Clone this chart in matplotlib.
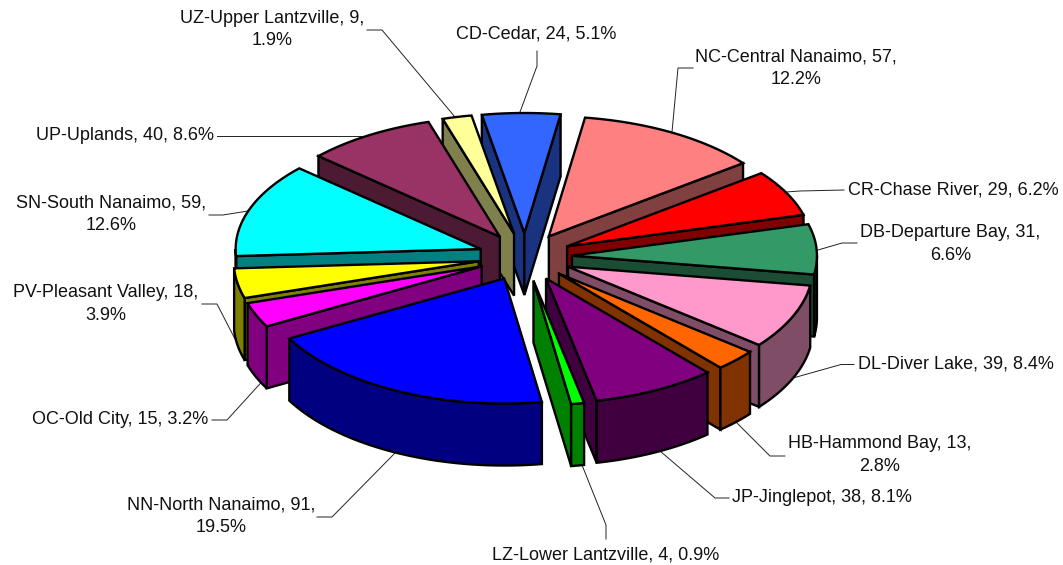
import numpy as np
import matplotlib
matplotlib.use("Agg")
import matplotlib.pyplot as plt
from matplotlib.patches import Polygon

plt.rcParams['font.family'] = ['Liberation Sans', 'DejaVu Sans']

# data, clockwise from the back of the pie
names = ["CD-Cedar", "NC-Central Nanaimo", "CR-Chase River", "DB-Departure Bay",
         "DL-Diver Lake", "HB-Hammond Bay", "JP-Jinglepot", "LZ-Lower Lantzville",
         "NN-North Nanaimo", "OC-Old City", "PV-Pleasant Valley", "SN-South Nanaimo",
         "UP-Uplands", "UZ-Upper Lantzville"]
counts = [24, 57, 29, 31, 39, 13, 38, 4, 91, 15, 18, 59, 40, 9]
percents = [5.1, 12.2, 6.2, 6.6, 8.4, 2.8, 8.1, 0.9, 19.5, 3.2, 3.9, 12.6, 8.6, 1.9]

top_colors = ["#3366FF", "#FF8080", "#FF0000", "#339966", "#FF99CC", "#FF6600", "#800080",
              "#00FF00", "#0000FF", "#FF00FF", "#FFFF00", "#00FFFF", "#993366", "#FFFF99"]
side_colors = ["#1A3380", "#804040", "#800000", "#1A4D33", "#804D66", "#803300", "#400040",
               "#008000", "#000080", "#800080", "#808000", "#008080", "#4D1A33", "#80804D"]
wall_colors = list(side_colors)
wall_colors[3] = "#0D2A1C"

# label layout: centre x, centre y, line break after the count or not
label_pos = [(536, 34, False), (796, 68, True), (953, 190, False), (950.5, 244, True),
             (955.5, 364, False), (879.5, 455, True), (821.5, 497, False), (606, 555, False),
             (221, 516, True), (120.5, 420, False), (105.5, 304, True), (111, 214.5, True),
             (125.5, 136, False), (272, 29.5, True)]
leaders = [[(537, 51), (537, 66), (520, 112)],
           [(693, 68), (678, 68), (672, 132)],
           [(844, 190), (800, 191), (786, 192)],
           [(857, 243), (842, 243), (818, 250)],
           [(854, 364.5), (841, 364.5), (793, 378)],
           [(785, 456), (770, 456), (737, 423)],
           [(729, 498), (715, 498), (660, 451)],
           [(606, 539), (606, 525), (582, 465)],
           [(317, 517), (332, 517), (396, 452)],
           [(212, 420), (227, 420), (268, 375)],
           [(202, 304), (217, 304), (235, 339)],
           [(209, 215), (223, 215), (248, 211)],
           [(217, 136), (385, 136)],
           [(367, 30), (382, 30), (455, 117)]]

# pie geometry in pixels, the back half is a little flatter than the front
cx, cy = 525, 257
rx = 245
ry_back, ry_front = 120, 125
ex, ey = 47, 24
depth = 62
start = -10
lw = 1.7


def point(tip, t):
    a = np.radians(t)
    ry = ry_back if np.cos(a) > 0 else ry_front
    return (tip[0] + rx * np.sin(a), tip[1] - ry * np.cos(a))


def down(pts):
    return [(x, y + depth) for x, y in pts]


fig = plt.figure(figsize=(10.63, 5.65), dpi=100)
ax = fig.add_axes([0, 0, 1, 1])
ax.set_xlim(0, 1063)
ax.set_ylim(565, 0)
ax.axis("off")

sweeps = np.array(counts) / sum(counts) * 360
t0 = start + np.concatenate([[0], np.cumsum(sweeps)[:-1]])
t1 = t0 + sweeps
mids = (t0 + t1) / 2

# back slices first so the front ones cover them
z = 1
for i in np.argsort(-np.cos(np.radians(mids))):
    m = np.radians(mids[i])
    tip = (cx + ex * np.sin(m), cy - ey * np.cos(m))

    # a radial wall only shows when it faces the viewer
    for t, normal in ((t0[i], t0[i] - 90), (t1[i], t1[i] + 90)):
        if np.cos(np.radians(normal)) >= 0:
            continue
        p = point(tip, t)
        ax.add_patch(Polygon([tip, p, (p[0], p[1] + depth), (tip[0], tip[1] + depth)],
                             closed=True, fc=side_colors[i], ec="black", lw=lw,
                             joinstyle="miter", zorder=z))
        z += 1

    a0, a1 = max(t0[i], 90), min(t1[i], 270)
    if a1 > a0:
        arc = [point(tip, t) for t in np.linspace(a0, a1, 60)]
        ax.add_patch(Polygon(arc + down(arc)[::-1], closed=True, fc=wall_colors[i],
                             ec="black", lw=lw, joinstyle="miter", zorder=z))
        z += 1

    arc = [point(tip, t) for t in np.linspace(t0[i], t1[i], 60)]
    ax.add_patch(Polygon([tip] + arc, closed=True, fc=top_colors[i], ec="black", lw=lw,
                         joinstyle="miter", zorder=z))
    z += 1

for i in range(len(names)):
    x, y, wrap = label_pos[i]
    sep = ",\n" if wrap else ", "
    ax.text(x, y, f"{names[i]}, {counts[i]}{sep}{percents[i]}%", ha="center", va="center",
            fontsize=13, color="#111111", linespacing=1.45, zorder=200)
    xs, ys = zip(*leaders[i])
    ax.plot(xs, ys, color="#222222", lw=0.7, zorder=0)

fig.savefig("out.png", dpi=100)
